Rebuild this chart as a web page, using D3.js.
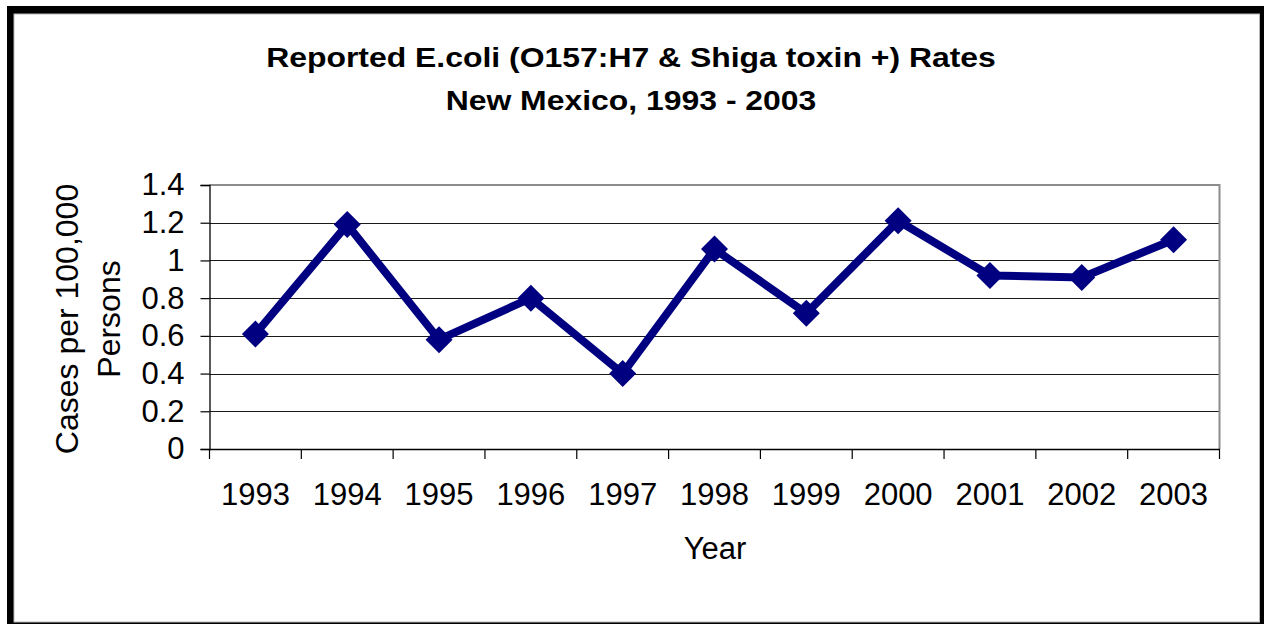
<!DOCTYPE html>
<html>
<head>
<meta charset="utf-8">
<script src="https://cdn.jsdelivr.net/npm/d3@7"></script>
<style>
  html, body { margin: 0; padding: 0; background: #fff; }
  svg { display: block; }
  text { font-family: "Liberation Sans", Arial, sans-serif; fill: #000; }
</style>
</head>
<body>
<svg id="chart" width="1264" height="624"></svg>
<script>
// Reported E. coli rates per 100,000 persons, New Mexico
const years = ["1993", "1994", "1995", "1996", "1997", "1998", "1999", "2000", "2001", "2002", "2003"];
const rates = [0.61, 1.19, 0.58, 0.80, 0.40, 1.06, 0.72, 1.21, 0.92, 0.91, 1.11];
const yTicks = [0, 0.2, 0.4, 0.6, 0.8, 1, 1.2, 1.4];
const titleLines = ["Reported E.coli (O157:H7 & Shiga toxin +) Rates", "New Mexico, 1993 - 2003"];
const yTitleLines = ["Cases per 100,000", "Persons"];
const xTitle = "Year";

const svg = d3.select("#chart");

// outer frame
svg.append("rect").attr("x", 7).attr("y", 6).attr("width", 1257).attr("height", 618).attr("fill", "#000");
svg.append("rect").attr("x", 14).attr("y", 14).attr("width", 1245.5).attr("height", 608)
  .attr("fill", "#fff").attr("stroke", "#b8b8b8").attr("stroke-width", 1);

const plot = { left: 209.5, top: 185, right: 1219.5, bottom: 449 };

const x = d3.scaleBand().domain(years).range([plot.left, plot.right]).padding(0);
const y = d3.scaleLinear().domain([0, 1.4]).range([plot.bottom, plot.top]);

// title
const title = svg.append("g");
titleLines.forEach((t, i) => {
  title.append("text")
    .attr("transform", `translate(631,${[67, 109.5][i]}) scale(1.14,1)`)
    .attr("text-anchor", "middle")
    .attr("font-weight", "bold")
    .attr("font-size", 28)
    .text(t);
});

// horizontal gridlines
svg.append("g").selectAll("line")
  .data(yTicks.filter(v => v > 0 && v < 1.4))
  .join("line")
  .attr("x1", plot.left).attr("x2", plot.right)
  .attr("y1", d => Math.round(y(d)) + 0.5).attr("y2", d => Math.round(y(d)) + 0.5)
  .attr("stroke", "#1a1a1a").attr("stroke-width", 1.2);

// plot area border (top and right)
svg.append("path")
  .attr("d", `M${plot.left},${y(1.4)}H${plot.right}V${plot.bottom}`)
  .attr("fill", "none").attr("stroke", "#8c8c8c").attr("stroke-width", 2);

// y axis
const yAxis = svg.append("g")
  .attr("transform", `translate(${plot.left},0)`)
  .call(d3.axisLeft(y).tickValues(yTicks).tickFormat(d => String(+d.toFixed(1))).tickSize(9).tickPadding(16));
yAxis.select(".domain").attr("stroke", "#000").attr("stroke-width", 1.3);
yAxis.selectAll(".tick line").attr("stroke", "#000").attr("stroke-width", 1.2);
yAxis.selectAll(".tick text")
  .attr("font-family", "Liberation Sans, Arial, sans-serif")
  .attr("font-size", 31).attr("fill", "#000");

// x axis with ticks between categories
const xAxis = svg.append("g")
  .attr("transform", `translate(0,${plot.bottom})`)
  .call(d3.axisBottom(x).tickSize(0).tickPadding(34));
xAxis.select(".domain").attr("stroke", "#000").attr("stroke-width", 1.3);
xAxis.selectAll(".tick text")
  .attr("font-family", "Liberation Sans, Arial, sans-serif")
  .attr("font-size", 31).attr("fill", "#000");
xAxis.append("g").selectAll("line")
  .data(years.concat(["end"]))
  .join("line")
  .attr("x1", (d, i) => plot.left + i * x.step())
  .attr("x2", (d, i) => plot.left + i * x.step())
  .attr("y1", 0).attr("y2", 10)
  .attr("stroke", "#000").attr("stroke-width", 1.2);

// axis titles
svg.append("text")
  .attr("x", 715).attr("y", 559)
  .attr("text-anchor", "middle")
  .attr("font-size", 31)
  .text(xTitle);

yTitleLines.forEach((t, i) => {
  svg.append("text")
    .attr("transform", `translate(${[78, 120][i]},319) rotate(-90)`)
    .attr("text-anchor", "middle")
    .attr("font-size", 32)
    .text(t);
});

// series line and markers
const pts = years.map((yr, i) => ({ yr, v: rates[i] }));
svg.append("path")
  .datum(pts)
  .attr("fill", "none")
  .attr("stroke", "#000080")
  .attr("stroke-width", 8)
  .attr("stroke-linejoin", "miter")
  .attr("d", d3.line().x(d => x(d.yr) + x.bandwidth() / 2).y(d => y(d.v)));

svg.append("g").selectAll("path")
  .data(pts)
  .join("path")
  .attr("transform", d => `translate(${x(d.yr) + x.bandwidth() / 2},${y(d.v)})`)
  .attr("d", "M0,-13.5L13.5,0L0,13.5L-13.5,0Z")
  .attr("fill", "#000080");
</script>
</body>
</html>
